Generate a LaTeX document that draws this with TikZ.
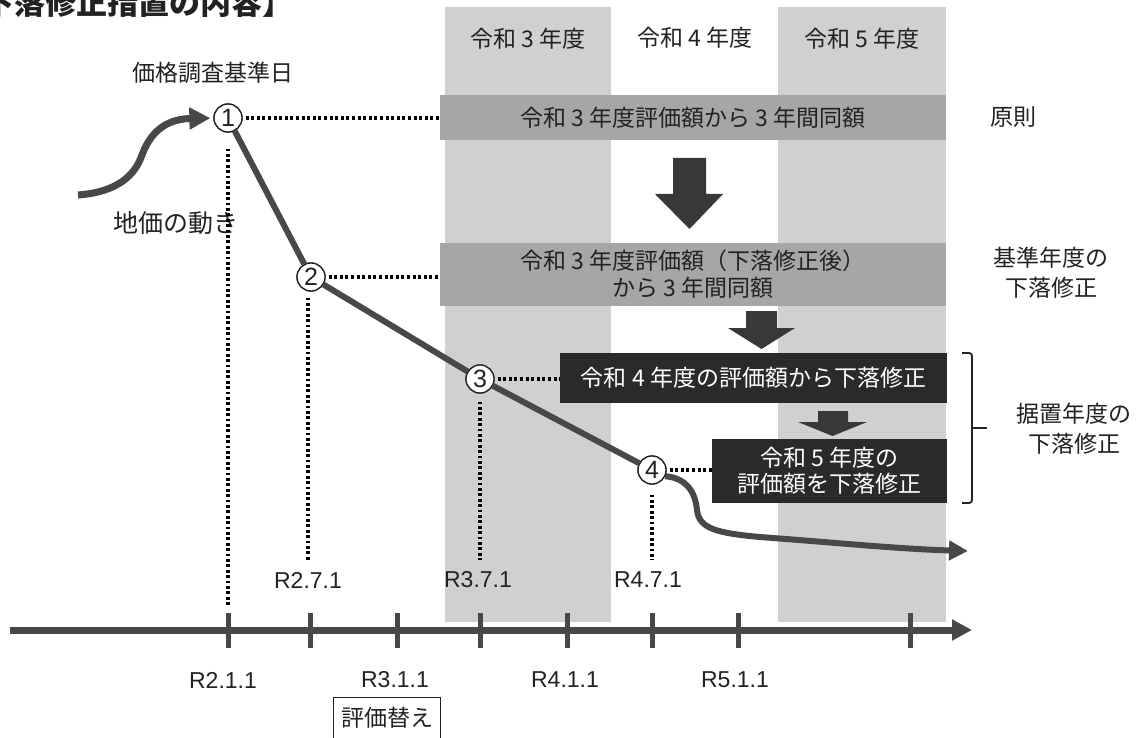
\documentclass[tikz,border=0pt]{standalone}
\usepackage{fontspec}
\setmainfont{Liberation Sans}
\newfontfamily\jp{Noto Sans CJK JP}
\usetikzlibrary{arrows.meta}
\definecolor{txt}{HTML}{222222}
\definecolor{colgray}{HTML}{D0D0D0}
\definecolor{boxgray}{HTML}{A6A6A6}
\definecolor{boxdark}{HTML}{2A2A2A}
\definecolor{linegray}{HTML}{484848}
\definecolor{arrowgray}{HTML}{383838}
\tikzset{
  lbl/.style={font=\jp\fontsize{23}{30}\selectfont, text=txt, inner sep=0pt, align=center},
  rlbl/.style={font=\fontsize{23}{27}\selectfont, text=txt, inner sep=0pt},
  circ/.style={circle, draw=txt, line width=1.3pt, fill=white, minimum size=28pt, inner sep=0pt, text=txt, font=\fontsize{25}{25}\selectfont},
  gbox/.style={fill=boxgray, inner sep=0pt, align=center, text=txt, font=\jp\fontsize{23}{27}\selectfont},
  dbox/.style={fill=boxdark, inner sep=0pt, align=center, text=white, font=\jp\fontsize{23}{26}\selectfont},
  dotline/.style={draw=black, line width=3.6pt, dash pattern=on 3pt off 2.6pt},
  vdot/.style={draw=black, line width=3.2pt, dash pattern=on 2.8pt off 2.6pt},
  trend/.style={draw=linegray, line width=6pt},
  blockarrow/.style={fill=arrowgray},
  tick/.style={draw=linegray, line width=5pt},
}
\begin{document}
\begin{tikzpicture}[x=1pt,y=-1pt]
\useasboundingbox (0,0) rectangle (1140,738);
\clip (0,0) rectangle (1140,738);
\fill[white] (0,0) rectangle (1140,738);
% year columns
\fill[colgray] (445,7) rectangle (611,622);
\fill[colgray] (778,7) rectangle (946,622);
\node[lbl] (y3) at (528,39) {令和 3 年度};
\node[lbl] (y4) at (695,38) {令和 4 年度};
\node[lbl] (y5) at (862,39) {令和 5 年度};
% title (cut at top)
\node[anchor=base west, inner sep=0pt, text=txt, font=\jp\bfseries\fontsize{31}{31}\selectfont] (title) at (-48,15) {【下落修正措置の内容】};
% labels
\node[lbl] (kijun) at (213,73) {価格調査基準日};
\node[lbl, font=\jp\fontsize{25}{30}\selectfont] (chika) at (176,223) {地価の動き};
% boxes
\node[gbox, minimum width=506pt, minimum height=45pt] (b1) at (693,117.5) {令和 3 年度評価額から 3 年間同額};
\node[gbox, minimum width=506pt, minimum height=63pt] (b2) at (693,274) {令和 3 年度評価額（下落修正後）\\から 3 年間同額};
\node[dbox, minimum width=387pt, minimum height=50pt] (b3) at (753.5,378) {令和 4 年度の評価額から下落修正};
\node[dbox, minimum width=235pt, minimum height=64pt] (b4) at (829.5,471) {令和 5 年度の\\評価額を下落修正};
% side labels
\node[lbl] (gensoku) at (1013,117) {原則};
\node[lbl] (kijunnendo) at (1051,273) {基準年度の\\下落修正};
\node[lbl] (suekoki) at (1074,429) {据置年度の\\下落修正};
% bracket
\coordinate (brt) at (972,353);
\coordinate (brb) at (972,503);
\draw[txt, line width=1.8pt, rounded corners=3pt] (962,353) -- (brt) -- (brb) -- (962,503);
\draw[txt, line width=1.8pt] (972,428) -- (987,428);
% block arrows
\fill[blockarrow] (673,158) -- (706,158) -- (706,194) -- (723,194) -- (689.5,229) -- (655,194) -- (673,194) -- cycle;
\fill[blockarrow] (746,311) -- (777,311) -- (777,328) -- (795,328) -- (761.5,349) -- (728,328) -- (746,328) -- cycle;
\fill[blockarrow] (818,411) -- (848,411) -- (848,422) -- (867,422) -- (832.5,436) -- (798,422) -- (818,422) -- cycle;
% axis
\coordinate (ax0) at (10,630);
\coordinate (ax1) at (972,630);
\draw[draw=linegray, line width=7pt, -{Triangle[length=20pt,width=20pt]}] (ax0) -- (ax1);
\foreach \t in {228,310,397,480,567,652,738,910} \draw[tick] (\t,613) -- (\t,648);
% circles
\node[circ] (c1) at (228,118) {1};
\node[circ] (c2) at (311,277) {2};
\node[circ] (c3) at (480,379) {3};
\node[circ] (c4) at (652,470) {4};
% trend
\draw[trend] (c1) -- (c2);
\draw[trend] (c2) -- (c3);
\draw[trend] (c3) -- (c4);
\coordinate (tend) at (968,551);
\draw[trend, -{Triangle[length=19pt,width=19pt]}] (c4.-25) .. controls (685,478) and (695,490) .. (697,510) .. controls (699,528) and (715,533) .. (760,537) .. controls (840,543) and (900,549) .. (tend);
% land price movement arrow
\coordinate (s0) at (78,195);
\draw[trend, line width=7pt, -{Triangle[length=21pt,width=21pt]}, shorten >=3pt] (s0) .. controls (118,192) and (135,175) .. (142,155) .. controls (152,128) and (170,119) .. (c1.west);
% redraw circles on top
\node[circ] at (c1) {1};
\node[circ] at (c2) {2};
\node[circ] at (c3) {3};
\node[circ] at (c4) {4};
% dotted connectors
\draw[dotline] ([xshift=3pt]c1.east) -- (c1.east -| b1.west);
\draw[dotline] ([xshift=3pt]c2.east) -- (c2.east -| b2.west);
\draw[dotline] ([xshift=3pt]c3.east) -- (c3.east -| b3.west);
\draw[dotline] ([xshift=3pt]c4.east) -- (c4.east -| b4.west);
% vertical dotted
\draw[vdot] ([yshift=-16pt]c1.south) -- (c1 |- 0,607);
\draw[vdot] ([yshift=-6pt,xshift=-3pt]c2.south) -- ([xshift=-3pt]c2 |- 0,560);
\draw[vdot] ([yshift=-8pt]c3.south) -- (c3 |- 0,560);
\draw[vdot] ([yshift=-10pt]c4.south) -- (c4 |- 0,560);
% date labels
\node[rlbl] (d27) at (308,580) {R2.7.1};
\node[rlbl] (d37) at (478,580) {R3.7.1};
\node[rlbl] (d47) at (648,580) {R4.7.1};
\node[rlbl] (d21) at (223,680) {R2.1.1};
\node[rlbl] (d31) at (395,680) {R3.1.1};
\node[rlbl] (d41) at (565,680) {R4.1.1};
\node[rlbl] (d51) at (735,680) {R5.1.1};
\node[lbl, draw=txt, line width=1pt, minimum width=107pt, minimum height=42pt] (kae) at (387,718) {評価替え};
\end{tikzpicture}
\end{document}
